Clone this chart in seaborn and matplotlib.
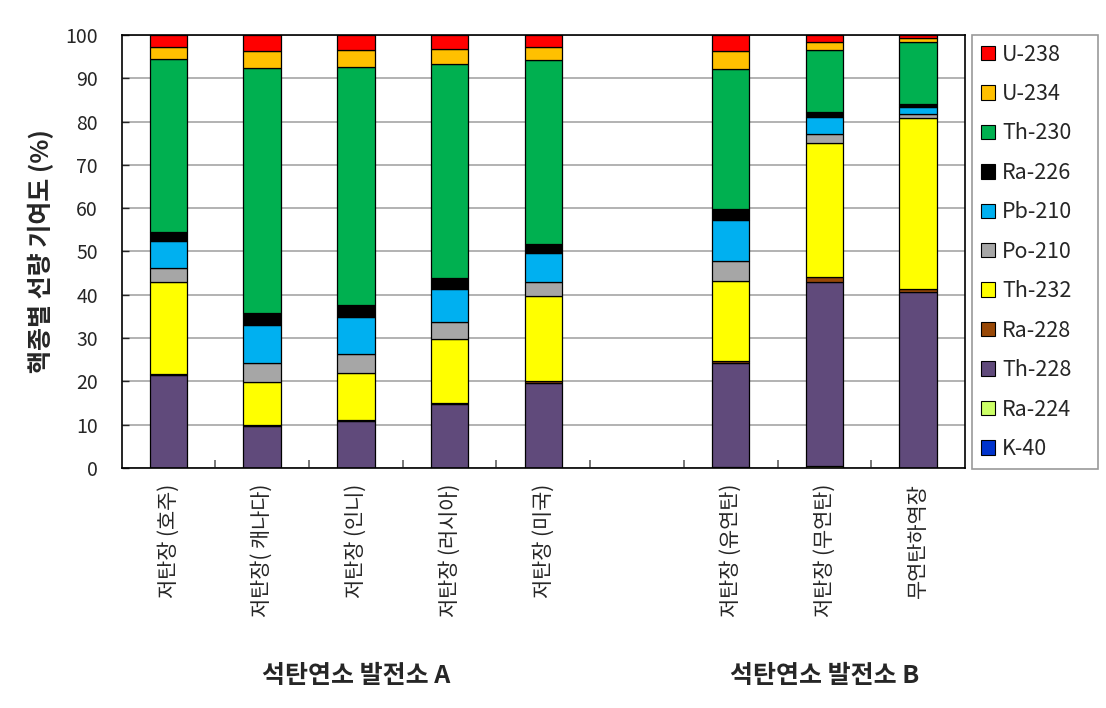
import numpy as np
import pandas as pd
import matplotlib
matplotlib.use('Agg')
import matplotlib.pyplot as plt
import matplotlib.patches as mpatches
from matplotlib.transforms import blended_transform_factory
import seaborn as sns

# 저탄장/하역장 (빈 칸 하나로 그룹 A, B를 나눔)
sites = ['저탄장 (호주)', '저탄장( 캐나다)', '저탄장 (인니)', '저탄장 (러시아)', '저탄장 (미국)',
         '저탄장 (유연탄)', '저탄장 (무연탄)', '무연탄하역장']
order = sites[:5] + [' '] + sites[5:]

# 핵종별 기여도 (%), 아래에서 위로 쌓는 순서
nuclides = ['K-40', 'Ra-224', 'Th-228', 'Ra-228', 'Th-232', 'Po-210',
            'Pb-210', 'Ra-226', 'Th-230', 'U-234', 'U-238']
k40 = [0.05, 0.05, 0.05, 0.05, 0.05, 0.1, 0.05, 0.05]
ra224 = [0.05, 0.05, 0.05, 0.05, 0.05, 0.1, 0.3, 0.05]
th228 = [21.3, 9.7, 10.8, 14.7, 19.6, 24.0, 42.65, 40.6]
ra228 = [0.3, 0.1, 0.2, 0.2, 0.3, 0.5, 1.1, 0.6]
th232 = [21.3, 9.9, 10.8, 14.7, 19.6, 18.5, 30.9, 39.5]
po210 = [3.2, 4.4, 4.4, 3.9, 3.3, 4.6, 2.1, 0.9]
pb210 = [6.3, 8.9, 8.6, 7.7, 6.7, 9.5, 3.9, 1.7]
ra226 = [1.9, 2.8, 2.8, 2.5, 2.1, 2.5, 1.3, 0.6]
th230 = [40.1, 56.4, 54.8, 49.4, 42.5, 32.3, 14.2, 14.3]
u234 = [2.7, 3.9, 4.0, 3.5, 3.0, 4.2, 1.8, 1.1]
u238 = [2.8, 3.8, 3.5, 3.3, 2.8, 3.7, 1.7, 0.6]
values = [k40, ra224, th228, ra228, th232, po210, pb210, ra226, th230, u234, u238]

colors = ['#0033CC', '#CCFF66', '#604A7B', '#984807', '#FFFF00', '#A6A6A6',
          '#00B0F0', '#000000', '#00B050', '#FFC000', '#FF0000']

df = pd.DataFrame(dict(zip(nuclides, values)), index=sites)

sns.set_style('white')
plt.rcParams['font.family'] = ['Noto Sans CJK KR', 'DejaVu Sans']

fig = plt.figure(figsize=(11.06, 7.08), dpi=100)
ax = fig.add_axes([0.110, 0.339, 0.7625, 0.6117])

bottom = np.zeros(len(sites))
for name, c in zip(nuclides, colors):
    sns.barplot(x=sites, y=df[name].values, order=order, color=c, saturation=1,
                width=0.4, bottom=bottom, edgecolor='black', linewidth=0.9,
                errorbar=None, ax=ax)
    bottom = bottom + df[name].values

ax.set_xlim(-0.5, len(order) - 0.5)
ax.set_ylim(0, 100)
ax.set_yticks(range(0, 101, 10))
ax.yaxis.grid(True, color='#A6A6A6', linewidth=1.2)
ax.set_axisbelow(True)
for s in ax.spines.values():
    s.set_color('black')
    s.set_linewidth(1.2)

ax.tick_params(axis='y', left=True, direction='in', length=5, width=1, labelsize=14, pad=17)
ax.set_xticks(range(len(order)))
ax.set_xticklabels(order, rotation=90, fontsize=15)
ax.tick_params(axis='x', which='major', bottom=True, length=0, pad=11)
ax.set_xticks(np.arange(0.5, len(order) - 1, 1), minor=True)
ax.tick_params(axis='x', which='minor', bottom=True, direction='in', length=6, width=1.2,
               color='#606060')

ax.set_xlabel('')
ax.set_ylabel('핵종별 선량 기여도 (%)', fontsize=18, fontweight='bold', labelpad=8)

trans = blended_transform_factory(ax.transData, fig.transFigure)
ax.text(2, 1 - 676 / 708, '석탄연소 발전소 A', transform=trans, ha='center', va='center',
        fontsize=18, fontweight='bold')
ax.text(7, 1 - 676 / 708, '석탄연소 발전소 B', transform=trans, ha='center', va='center',
        fontsize=18, fontweight='bold')

handles = [mpatches.Patch(facecolor=c, edgecolor='black', linewidth=0.8, label=n)
           for n, c in zip(nuclides, colors)][::-1]
leg = fig.legend(handles=handles, loc='upper left',
                 bbox_to_anchor=(972 / 1106, 1 - 468 / 708, 126 / 1106, 433 / 708),
                 mode='expand', fontsize=15.5, labelspacing=0.81, handlelength=0.65,
                 handleheight=0.65, handletextpad=0.35, borderpad=0.4, borderaxespad=0,
                 frameon=True, fancybox=False)
leg.get_frame().set_edgecolor('#808080')
leg.get_frame().set_linewidth(1.2)

fig.savefig('out.png', dpi=100)
